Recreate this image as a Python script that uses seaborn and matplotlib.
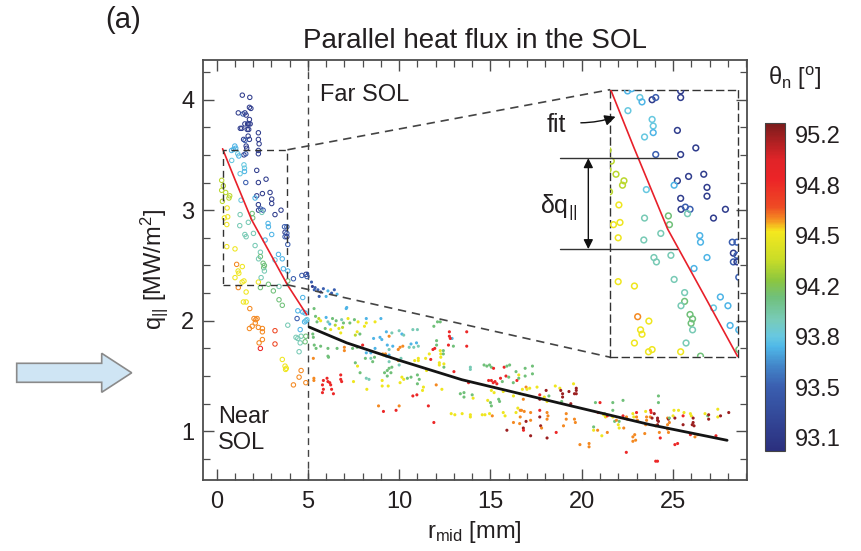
import numpy as np
import pandas as pd
import matplotlib
matplotlib.use('Agg')
import matplotlib.pyplot as plt
import seaborn as sns
from matplotlib.colors import LinearSegmentedColormap, Normalize
from matplotlib.patches import Polygon, Rectangle
from matplotlib.ticker import MultipleLocator
from matplotlib.cm import ScalarMappable

# ---------------- colour codes (theta_n in degrees) ----------------
N, B, S, L, T, G, YG, Y, O, RO, R, D = (93.15, 93.45, 93.72, 93.80, 93.93, 94.08,
                                          94.30, 94.50, 94.62, 94.72, 94.88, 95.20)

# ---------------- near SOL (open circles) ----------------
near_r = [1.41, 1.82, 1.80, 1.88, 1.19, 1.45, 1.55, 1.62, 1.80, 1.55, 1.70, 1.76, 1.84, 1.30, 1.38,
          1.68, 1.76, 2.29, 1.73, 1.80, 1.48, 1.56, 1.62, 1.65, 2.29, 2.33, 2.29, 2.29, 1.50, 1.60,
          1.00, 0.93, 1.05, 0.82, 1.16, 1.22, 0.83, 1.50, 1.53, 1.53, 1.29, 2.20, 1.60, 2.29, 2.71,
          2.51, 2.20, 2.93, 3.02, 3.02, 2.11, 2.29, 1.34, 2.30, 2.42, 2.55, 2.48, 1.95, 1.98, 3.53,
          3.20, 1.29, 1.74, 2.82, 2.84, 3.72, 3.85, 3.75, 3.85, 3.75, 3.85, 1.27, 2.02, 1.55, 1.62,
          3.02, 0.28, 0.37, 0.28, 0.50, 0.68, 0.72, 0.32, 0.58, 0.43, 0.61, 0.56, 0.56, 1.01, 2.11,
          2.40, 2.40, 2.30, 2.66, 3.39, 3.60, 3.20, 3.90, 2.55, 2.62, 2.58, 2.62, 1.10, 1.41, 1.18,
          1.22, 1.01, 1.40, 1.50, 1.19, 2.29, 2.44, 2.84, 2.40, 3.11, 3.42, 3.90, 3.66, 3.90, 4.21,
          4.67, 4.90, 4.95, 1.62, 3.42, 1.62, 3.60, 1.82, 4.72, 4.45, 4.72, 4.85, 4.41, 4.90, 4.82,
          4.95, 2.05, 2.15, 2.12, 2.22, 3.90, 1.95, 1.80, 2.29, 2.51, 2.51, 3.20, 4.58, 4.35, 4.45,
          4.63, 4.89, 2.51, 2.33, 3.20, 2.40, 4.58, 4.52, 4.85, 3.60, 3.75, 3.82, 3.78, 4.63, 4.52,
          4.21, 4.89, 1.47]
near_q = [4.04, 4.02, 3.93, 3.92, 3.88, 3.87, 3.88, 3.86, 3.82, 3.78, 3.78, 3.78, 3.78, 3.74, 3.74,
          3.73, 3.73, 3.70, 3.67, 3.64, 3.64, 3.63, 3.58, 3.56, 3.64, 3.60, 3.54, 3.51, 3.50, 3.51,
          3.58, 3.55, 3.56, 3.54, 3.51, 3.49, 3.45, 3.41, 3.38, 3.35, 3.33, 3.36, 3.25, 3.25, 3.28,
          3.15, 3.13, 3.16, 3.10, 3.06, 3.11, 3.05, 3.09, 3.00, 3.01, 3.00, 2.98, 2.97, 2.93, 3.00,
          2.96, 2.96, 2.89, 2.88, 2.85, 2.85, 2.85, 2.80, 2.79, 2.76, 2.76, 2.86, 2.79, 2.78, 2.76,
          2.78, 3.27, 3.22, 3.18, 3.16, 3.11, 3.13, 3.08, 3.02, 2.93, 2.94, 2.87, 2.67, 2.65, 2.68,
          2.62, 2.58, 2.56, 2.73, 2.60, 2.56, 2.55, 2.69, 2.52, 2.50, 2.48, 2.45, 2.51, 2.49, 2.45,
          2.43, 2.39, 2.35, 2.36, 2.30, 2.35, 2.39, 2.33, 2.30, 2.27, 2.31, 2.36, 2.47, 2.45, 2.38,
          2.41, 2.42, 2.40, 2.26, 2.19, 2.17, 2.14, 2.11, 2.21, 2.09, 2.08, 2.07, 2.02, 2.00, 1.99,
          2.01, 2.02, 2.01, 1.98, 2.02, 1.96, 1.95, 1.93, 1.94, 1.93, 1.90, 1.91, 1.92, 1.85, 1.84,
          1.86, 1.86, 1.83, 1.80, 1.79, 1.75, 1.80, 1.72, 1.81, 1.65, 1.59, 1.57, 1.56, 1.55, 1.49,
          1.42, 1.44, 2.17]
near_theta = [N, N, N, N, N, B, N, N, N, N, N, N, N, N, N,
              N, N, N, N, N, N, B, N, N, N, N, N, N, N, B,
              S, S, S, S, L, S, L, L, L, S, L, N, B, N, N,
              N, N, N, N, N, S, N, L, N, B, B, T, G, G, N,
              N, T, T, S, S, B, B, N, B, B, N, T, T, T, T,
              S, YG, YG, YG, YG, YG, YG, YG, Y, Y, Y, Y, Y, Y, T,
              T, G, T, S, S, S, L, B, G, G, G, T, O, Y, Y,
              Y, Y, Y, Y, O, Y, T, G, G, G, T, G, S, S, B,
              B, N, B, Y, G, Y, G, O, S, S, S, S, B, S, S,
              L, O, O, O, O, T, O, O, O, O, O, RO, S, T, T,
              T, G, O, O, RO, R, T, T, G, Y, Y, Y, Y, O, O,
              O, O, Y]

# ---------------- far SOL (small dots) ----------------
far_r = [4.98, 5.20, 5.40, 5.55, 5.70, 5.85, 6.10, 6.30, 6.45, 6.60, 5.25, 5.35, 5.62, 6.00, 7.10,
         5.34, 7.13, 5.42, 5.60, 5.50, 5.70, 6.00, 6.10, 6.20, 6.35, 6.55, 6.50, 6.85, 6.95, 6.90,
         7.20, 7.30, 7.55, 7.75, 8.20, 8.20, 8.10, 8.68, 9.00, 7.70, 7.85, 7.60, 5.95, 6.25, 6.70,
         5.27, 5.30, 6.80, 8.60, 8.95, 9.05, 9.30, 9.45, 9.60, 10.00, 10.15, 10.25, 10.75, 11.00, 11.90,
         12.10, 12.25, 12.75, 12.75, 12.90, 13.70, 12.80, 5.45, 5.35, 5.70, 6.10, 6.10, 6.60, 7.00, 7.00,
         7.45, 7.70, 8.00, 8.20, 8.45, 8.68, 9.35, 9.45, 9.65, 9.10, 9.25, 9.30, 9.45, 9.95, 10.05,
         10.20, 10.55, 10.65, 10.80, 10.95, 11.05, 11.85, 11.95, 12.05, 12.05, 12.25, 12.28, 12.28, 12.42, 12.42,
         12.70, 12.97, 13.70, 5.30, 6.13, 7.60, 7.72, 8.15, 8.45, 8.55, 8.65, 9.14, 9.45, 9.45, 9.95,
         10.00, 10.10, 10.85, 11.05, 11.05, 11.45, 11.65, 11.73, 12.20, 12.20, 12.45, 12.45, 13.00, 13.90, 13.90,
         14.65, 14.80, 14.95, 15.05, 15.17, 15.75, 15.90, 16.05, 16.40, 16.55, 7.86, 8.20, 8.35, 9.20, 9.35,
         9.35, 9.55, 9.60, 10.15, 10.25, 10.05, 10.45, 10.65, 11.00, 11.10, 11.00, 11.50, 11.33, 5.33, 5.33,
         5.85, 6.05, 6.10, 6.20, 6.80, 5.80, 5.85, 5.80, 6.25, 6.30, 6.40, 6.80, 6.85, 7.50, 8.23,
         9.07, 9.07, 9.40, 10.75, 10.97, 11.28, 12.03, 12.34, 13.35, 13.55, 13.55, 14.00, 14.05, 13.80, 14.90,
         15.05, 15.15, 15.25, 15.35, 15.55, 15.65, 15.85, 16.00, 16.25, 16.45, 16.55, 15.05, 15.20, 15.45, 15.50,
         14.85, 15.00, 15.05, 15.70, 16.26, 16.60, 16.80, 16.95, 16.50, 16.70, 16.85, 8.87, 9.14, 9.83, 10.00,
         11.60, 11.90, 12.85, 13.05, 13.45, 13.90, 13.90, 14.55, 14.70, 14.95, 15.10, 15.70, 15.80, 16.40, 16.26,
         15.90, 16.60, 16.80, 16.95, 17.20, 16.90, 16.90, 17.30, 17.30, 16.75, 17.00, 17.15, 17.55, 17.70, 17.70,
         18.05, 17.95, 18.20, 18.10, 18.55, 18.80, 18.85, 18.95, 18.95, 18.90, 19.30, 19.55, 19.60, 19.70, 19.70,
         19.70, 19.40, 19.15, 19.15, 19.60, 19.65, 16.63, 16.63, 16.81, 17.20, 17.20, 17.70, 17.70, 17.75, 17.80,
         18.10, 18.15, 18.10, 18.10, 18.60, 19.00, 19.90, 20.40, 20.40, 20.75, 21.00, 20.90, 20.65, 20.65, 20.87,
         21.20, 21.25, 21.30, 21.10, 21.40, 21.40, 21.70, 21.70, 21.70, 21.80, 21.90, 22.05, 22.00, 22.05, 22.26,
         22.26, 22.45, 22.50, 22.30, 22.44, 22.80, 22.85, 23.00, 23.00, 23.05, 22.90, 22.80, 22.80, 22.95, 23.50,
         23.55, 23.55, 23.50, 23.45, 23.77, 23.80, 23.75, 23.85, 23.97, 24.15, 24.15, 24.20, 24.15, 24.20, 24.20,
         24.05, 24.25, 24.30, 24.05, 24.15, 24.70, 24.75, 24.80, 24.70, 24.70, 24.75, 24.80, 25.00, 25.05, 25.10,
         25.10, 25.25, 25.30, 25.55, 25.55, 25.60, 25.95, 26.00, 26.10, 26.10, 26.15, 26.05, 25.95, 26.20, 26.35,
         26.75, 26.90, 26.95, 26.95, 27.35, 27.45, 27.45, 27.60, 28.05]
far_q = [2.43, 2.35, 2.30, 2.28, 2.26, 2.29, 2.27, 2.25, 2.28, 2.24, 2.31, 2.28, 2.22, 2.22, 2.11,
         2.11, 2.12, 2.04, 2.02, 1.99, 2.00, 2.03, 1.99, 1.97, 2.02, 2.00, 1.96, 2.01, 1.98, 1.94,
         2.02, 1.98, 2.01, 1.99, 2.02, 1.98, 1.95, 1.99, 2.02, 1.90, 1.88, 1.87, 1.93, 1.92, 1.93,
         1.88, 1.85, 1.89, 1.84, 1.85, 1.83, 1.90, 1.86, 1.89, 1.91, 1.88, 1.87, 1.92, 1.92, 1.95,
         1.99, 1.99, 1.90, 1.86, 1.84, 1.90, 1.84, 1.75, 1.78, 1.77, 1.75, 1.68, 1.75, 1.76, 1.73,
         1.75, 1.76, 1.78, 1.71, 1.71, 1.75, 1.78, 1.74, 1.77, 1.70, 1.70, 1.68, 1.69, 1.74, 1.76,
         1.77, 1.76, 1.79, 1.76, 1.80, 1.77, 1.74, 1.75, 1.82, 1.78, 1.73, 1.70, 1.67, 1.73, 1.70,
         1.78, 1.77, 1.77, 1.66, 1.67, 1.62, 1.59, 1.66, 1.66, 1.63, 1.67, 1.69, 1.63, 1.57, 1.64,
         1.60, 1.66, 1.64, 1.66, 1.64, 1.66, 1.70, 1.65, 1.62, 1.60, 1.61, 1.58, 1.54, 1.58, 1.56,
         1.60, 1.59, 1.60, 1.58, 1.57, 1.58, 1.59, 1.60, 1.54, 1.51, 1.53, 1.48, 1.47, 1.53, 1.50,
         1.55, 1.53, 1.58, 1.49, 1.47, 1.44, 1.48, 1.49, 1.51, 1.47, 1.43, 1.55, 1.40, 1.48, 1.46,
         1.46, 1.48, 1.45, 1.44, 1.51, 1.42, 1.38, 1.35, 1.42, 1.38, 1.34, 1.47, 1.45, 1.45, 1.38,
         1.46, 1.41, 1.41, 1.32, 1.33, 1.37, 1.42, 1.38, 1.34, 1.31, 1.35, 1.33, 1.30, 1.44, 1.46,
         1.46, 1.44, 1.45, 1.43, 1.48, 1.45, 1.50, 1.49, 1.44, 1.46, 1.48, 1.37, 1.35, 1.29, 1.27,
         1.28, 1.26, 1.23, 1.36, 1.32, 1.34, 1.29, 1.40, 1.21, 1.19, 1.18, 1.23, 1.18, 1.19, 1.23,
         1.23, 1.08, 1.16, 1.15, 1.16, 1.15, 1.13, 1.15, 1.15, 1.16, 1.14, 1.17, 1.14, 1.17, 1.08,
         1.01, 1.07, 1.03, 1.09, 0.96, 1.57, 1.50, 1.59, 1.52, 1.38, 1.38, 1.39, 1.40, 1.33, 1.29,
         1.37, 1.31, 1.32, 1.27, 1.41, 1.39, 1.37, 1.34, 1.31, 1.27, 1.36, 1.43, 1.34, 1.39, 1.37,
         1.34, 1.25, 1.16, 1.11, 1.11, 1.08, 1.19, 1.13, 1.01, 1.17, 1.10, 1.19, 1.13, 1.05, 1.03,
         1.17, 1.14, 1.11, 0.94, 0.99, 1.05, 0.88, 0.89, 0.86, 1.26, 1.26, 1.17, 1.04, 1.01, 1.01,
         1.15, 1.16, 1.13, 0.96, 1.14, 0.99, 1.26, 1.19, 1.13, 1.09, 1.10, 1.09, 1.06, 1.03, 1.28,
         1.14, 1.13, 1.11, 1.03, 0.81, 1.16, 1.13, 1.17, 1.13, 1.10, 0.97, 0.95, 0.91, 0.92, 1.18,
         1.13, 1.10, 1.06, 0.98, 1.19, 1.17, 1.13, 1.12, 1.16, 1.12, 1.10, 1.09, 1.06, 1.32, 1.26,
         1.05, 0.99, 0.94, 0.73, 0.73, 1.12, 1.11, 1.08, 1.06, 1.02, 0.99, 1.12, 1.14, 1.19, 1.12,
         0.88, 0.89, 1.19, 1.14, 1.06, 1.17, 1.16, 1.14, 1.12, 1.08, 1.05, 1.06, 0.97, 0.95, 0.97,
         1.16, 1.14, 1.15, 1.11, 0.96, 1.20, 1.13, 1.14, 1.17]
far_theta = [B, B, B, B, N, B, S, B, B, S, N, B, B, S, S,
             G, S, G, YG, G, Y, S, T, S, G, G, YG, T, G, YG,
             Y, G, G, Y, S, Y, Y, Y, S, Y, G, YG, G, Y, Y,
             G, G, Y, S, S, S, S, O, T, T, S, T, T, T, G,
             G, G, R, R, S, R, R, G, G, G, G, G, G, O, O,
             G, G, R, S, S, S, S, T, S, O, O, S, S, O, O,
             O, T, S, T, S, T, R, R, G, G, Y, Y, Y, G, G,
             R, G, R, O, G, G, Y, G, T, G, G, Y, T, G, O,
             T, T, Y, Y, Y, Y, Y, R, Y, Y, Y, G, R, T, T,
             G, G, G, G, R, R, G, G, G, Y, G, T, T, G, G,
             G, G, G, Y, Y, Y, G, G, G, G, G, Y, Y, O, O,
             R, R, R, R, R, R, R, R, R, R, R, R, R, Y, Y,
             Y, Y, Y, R, R, Y, O, Y, G, G, G, G, Y, R, R,
             R, R, R, R, R, G, R, G, G, R, G, Y, Y, G, G,
             Y, G, G, Y, Y, Y, O, O, Y, O, O, O, R, R, O,
             R, R, Y, Y, Y, Y, Y, Y, Y, Y, O, Y, Y, Y, O,
             D, O, D, D, D, G, G, G, G, Y, Y, Y, Y, R, D,
             D, Y, G, Y, Y, Y, D, D, D, G, D, Y, D, D, D,
             D, D, O, O, O, O, O, O, R, O, O, R, D, D, O,
             O, O, O, D, R, O, O, O, O, G, R, R, G, Y, O,
             Y, G, Y, Y, R, O, G, G, Y, G, O, G, Y, Y, G,
             R, O, O, O, R, Y, Y, R, O, O, O, O, O, O, Y,
             O, O, O, O, R, R, O, D, D, D, D, D, D, G, G,
             O, O, R, R, R, O, D, O, O, O, O, G, Y, Y, D,
             R, R, Y, R, D, Y, Y, Y, D, D, D, D, R, O, O,
             Y, G, D, D, R, Y, Y, D, D]

# ---------------- fitted curves ----------------
fit_near_r = [0.33, 1.00, 1.93, 2.90, 3.88, 4.94]
fit_near_q = [3.555, 3.28, 2.91, 2.62, 2.325, 2.054]
fit_far_r = [5.07, 7.13, 10.05, 13.43, 19.37, 23.75, 27.96]
fit_far_q = [1.943, 1.80, 1.64, 1.467, 1.232, 1.06, 0.919]

cbar_ticks = [93.1, 93.45, 93.8, 94.15, 94.5, 94.85, 95.2]
cbar_labels = ['93.1', '93.5', '93.8', '94.2', '94.5', '94.8', '95.2']
x_ticks = [0, 5, 10, 15, 20, 25]
y_ticks = [1, 2, 3, 4]

# ---------------- style ----------------
sns.set_style('ticks')
plt.rcParams['font.family'] = ['Liberation Sans', 'DejaVu Sans']
plt.rcParams['mathtext.fontset'] = 'custom'
plt.rcParams['mathtext.rm'] = 'Liberation Sans'
plt.rcParams['mathtext.it'] = 'Liberation Sans:italic'
plt.rcParams['mathtext.default'] = 'regular'
TXT = '#231f20'
FS = 17

stops = [(0.0, '#2b2f7e'), (0.196, '#3a5fb0'), (0.257, '#4284c8'), (0.318, '#4fb8e8'),
         (0.35, '#68c8e0'), (0.40, '#78cbb8'), (0.47, '#70c07a'), (0.52, '#8cc63f'),
         (0.583, '#c8dc28'), (0.67, '#f5e81e'), (0.705, '#f59121'), (0.746, '#ee4a24'),
         (0.83, '#ec2427'), (0.89, '#e02428'), (1.0, '#7b1c1c')]
cmap = LinearSegmentedColormap.from_list('theta', stops)
norm = Normalize(vmin=93.01, vmax=95.28)

W, H = 861, 551
fig = plt.figure(figsize=(W / 100, H / 100), dpi=100)
ax = fig.add_axes([202.5 / W, 1 - 480 / H, (747 - 202.5) / W, (480 - 60) / H])

near = pd.DataFrame({'r': near_r, 'q': near_q, 'theta': near_theta})
far = pd.DataFrame({'r': far_r, 'q': far_q, 'theta': far_theta})


def open_circles(axx, size, lw):
    sns.scatterplot(data=near, x='r', y='q', hue='theta', palette=cmap, hue_norm=norm,
                    s=size, marker='o', linewidth=0, legend=False, ax=axx, zorder=3)
    coll = axx.collections[-1]
    fc = coll.get_facecolors()
    coll.set_edgecolors(fc)
    coll.set_facecolors('none')
    coll.set_linewidths(lw)


sns.scatterplot(data=far, x='r', y='q', hue='theta', palette=cmap, hue_norm=norm,
                s=5, marker='o', linewidth=0, legend=False, ax=ax, zorder=3)
open_circles(ax, 10, 0.75)
sns.lineplot(x=fit_near_r, y=fit_near_q, color='#e8202a', lw=1.2, estimator=None, sort=False, ax=ax, zorder=4)
sns.lineplot(x=fit_far_r, y=fit_far_q, color='#141414', lw=2.0, estimator=None, sort=False, ax=ax, zorder=4)

ax.set_xlim(-0.77, 29.05)
ax.set_ylim(0.56, 4.358)
ax.set_xticks(x_ticks)
ax.set_yticks(y_ticks)
ax.xaxis.set_minor_locator(MultipleLocator(1))
ax.yaxis.set_minor_locator(MultipleLocator(0.25))
ax.tick_params(which='both', direction='in', top=True, right=True, colors='#4d4d4d',
               labelcolor=TXT, labelsize=FS)
ax.tick_params(which='major', length=8, width=1.0)
ax.tick_params(which='minor', length=5, width=0.9)
ax.tick_params(axis='x', pad=8)
ax.tick_params(axis='y', pad=6)
for sp in ax.spines.values():
    sp.set_color('#4d4d4d')
    sp.set_linewidth(1.3)
ax.set_xlabel(r'r$_{\rm mid}$ [mm]', fontsize=FS, color=TXT, labelpad=4)
ax.set_ylabel(r'q$_{||}$ [MW/m$^2$]', fontsize=FS, color=TXT, labelpad=8)
ax.set_title('Parallel heat flux in the SOL', fontsize=20, color=TXT, pad=9)

dash = (0, (5, 3.5))
ax.axvline(5, color='#444444', lw=1.0, ls=dash, zorder=2)
ax.text(5.67, 4.04, 'Far SOL', fontsize=FS, color=TXT, ha='left', va='center')
ax.text(0.08, 1.01, 'Near\nSOL', fontsize=FS, color=TXT, ha='left', va='center', linespacing=1.25)

# zoom source box and connectors
x0, x1, y0, y1 = 0.34, 3.88, 2.325, 3.546
ix0, iy0, iw, ih = 21.56, 1.67, 7.0, 2.42
ax.add_patch(Rectangle((x0, y0), x1 - x0, y1 - y0, fill=False, ec='#333333', lw=1.0, ls=dash, zorder=5))
ax.plot([x1, ix0], [y1, iy0 + ih], color='#444444', lw=1.2, ls=dash, zorder=5)
ax.plot([x1, ix0], [y0, iy0], color='#444444', lw=1.2, ls=dash, zorder=5)

axins = ax.inset_axes([ix0, iy0, iw, ih], transform=ax.transData)
axins.patch.set_alpha(0)
open_circles(axins, 17, 1.1)
sns.lineplot(x=fit_near_r, y=fit_near_q, color='#e8202a', lw=1.2, estimator=None, sort=False, ax=axins, zorder=4)
axins.set_xlim(x0, x1)
axins.set_ylim(y0, y1)
axins.set_xticks([])
axins.set_yticks([])
axins.set_xlabel('')
axins.set_ylabel('')
for sp in axins.spines.values():
    sp.set_linestyle(dash)
    sp.set_color('#333333')
    sp.set_linewidth(1.0)

# annotations in the inset region
ax.plot([18.82, 25.23], [3.47, 3.47], color='#333333', lw=1.0, zorder=6)
ax.plot([18.82, 25.23], [2.648, 2.648], color='#333333', lw=1.0, zorder=6)
ax.annotate('', xy=(20.36, 3.47), xytext=(20.36, 2.648),
            arrowprops=dict(arrowstyle='<|-|>', color='#111111', lw=1.0,
                            mutation_scale=14, shrinkA=0, shrinkB=0), zorder=7)
ax.text(18.75, 3.03, r'δq$_{||}$', fontsize=FS + 1, color=TXT, ha='center', va='center')
ax.text(18.6, 3.77, 'fit', fontsize=FS + 1, color=TXT, ha='center', va='center')
ax.annotate('', xy=(21.85, 3.845), xytext=(19.95, 3.79),
            arrowprops=dict(arrowstyle='-|>', color='#111111', lw=1.0, mutation_scale=16,
                            shrinkA=0, shrinkB=0, connectionstyle='arc3,rad=0.08'), zorder=7)

# colorbar
cax = fig.add_axes([765 / W, 1 - 451 / H, 20 / W, 328 / H])
cb = fig.colorbar(ScalarMappable(norm=norm, cmap=cmap), cax=cax)
cb.set_ticks(cbar_ticks)
cb.set_ticklabels(cbar_labels)
cb.ax.tick_params(which='major', length=0, labelsize=FS, labelcolor=TXT, pad=7)
mids = [(a + b) / 2 for a, b in zip(cbar_ticks[:-1], cbar_ticks[1:])]
cb.ax.yaxis.set_ticks(mids, minor=True)
cb.ax.tick_params(which='minor', direction='in', length=4, width=0.8, color='#555555', right=True, left=False)
cb.outline.set_edgecolor('#444444')
cb.outline.set_linewidth(0.8)
fig.text(795 / W, 1 - 78 / H, r'$\theta_{\rm n}$ [$^{\rm o}$]', fontsize=FS, color=TXT, ha='center', va='center')

# panel label and left arrow
fig.text(123 / W, 1 - 20 / H, '(a)', fontsize=21, color=TXT, ha='center', va='center')
pts = [(16.7, 363.3), (101.7, 363.3), (101.7, 353.3), (131.7, 372.8),
       (101.7, 392.3), (101.7, 382.3), (16.7, 382.3)]
fig.patches.append(Polygon([(px / W, 1 - py / H) for px, py in pts], closed=True,
                           transform=fig.transFigure, fc='#cfe5f4', ec='#8a8a8a', lw=1.2))

fig.savefig('out.png', dpi=100)
